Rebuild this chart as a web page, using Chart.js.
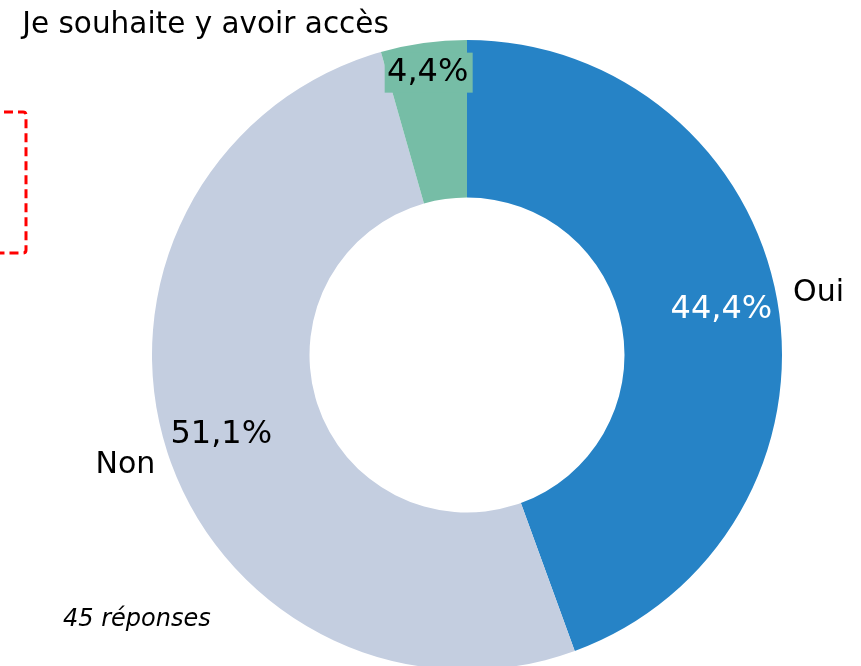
<!DOCTYPE html>
<html>
<head>
<meta charset="utf-8">
<script src="https://cdn.jsdelivr.net/npm/chart.js@4.4.0/dist/chart.umd.min.js"></script>
<style>
  html, body { margin: 0; padding: 0; background: #fff; overflow: hidden; }
  #wrap { position: relative; width: 861px; height: 666px; overflow: hidden; }
  #chart { position: absolute; left: 0; top: 0; }
  #marker { position: absolute; left: 0; top: 0; }
</style>
</head>
<body>
<div id="wrap">
  <canvas id="chart" width="861" height="710"></canvas>
  <svg id="marker" width="40" height="270">
    <path d="M -10 112 L 23 112 Q 26 112 26 115 L 26 250 Q 26 253 23 253 L -10 253"
          fill="none" stroke="#ff0000" stroke-width="3" stroke-dasharray="9 5"/>
  </svg>
</div>
<script>
// Survey answers (45 responses), in drawing order clockwise from top
const labels = ['Oui', 'Non', 'Je souhaite y avoir accès'];
const values = [44.4, 51.1, 4.4];
const colors = ['#2683C6', '#C4CEE0', '#76BDA6'];
const footnote = '45 réponses';

const FONT = '"DejaVu Sans", sans-serif';

/**
 * Label placement for each slice.
 * valueFrac: where the percentage sits between inner and outer radius
 * nameGap: distance of the category name outside the ring
 */
const LABEL_STYLE = [
  { valueFrac: 0.64, valueColor: '#ffffff', nameGap: 42, nameDx: 0, nameDy: 0, box: false },
  { valueFrac: 0.64, valueColor: '#000000', nameGap: 44, nameDx: 0, nameDy: 0, box: false },
  { valueFrac: 0.81, valueColor: '#000000', nameGap: 0, nameDx: -218, nameDy: -18, box: true }
];

function formatPercent(v) {
  return v.toFixed(1).replace('.', ',') + '%';
}

const sliceLabels = {
  id: 'sliceLabels',
  afterDatasetsDraw(chart) {
    const ctx = chart.ctx;
    const meta = chart.getDatasetMeta(0);
    ctx.save();
    ctx.textAlign = 'center';
    ctx.textBaseline = 'middle';
    meta.data.forEach((arc, i) => {
      const st = LABEL_STYLE[i];
      const mid = (arc.startAngle + arc.endAngle) / 2;
      const rv = arc.innerRadius + st.valueFrac * (arc.outerRadius - arc.innerRadius);
      const vx = arc.x + Math.cos(mid) * rv;
      const vy = arc.y + Math.sin(mid) * rv;
      const txt = formatPercent(values[i]);
      ctx.font = '32px ' + FONT;
      if (st.box) {
        ctx.fillStyle = colors[i];
        ctx.fillRect(vx - 43, vy - 20, 88, 40);
      }
      ctx.fillStyle = st.valueColor;
      ctx.fillText(txt, vx, vy);

      const rn = arc.outerRadius + st.nameGap;
      const nx = arc.x + Math.cos(mid) * rn + st.nameDx;
      const ny = arc.y + Math.sin(mid) * rn + st.nameDy;
      ctx.font = (i === 2 ? '29.5px ' : '30px ') + FONT;
      ctx.fillStyle = '#000000';
      ctx.fillText(labels[i], nx, ny);
    });

    ctx.font = 'italic 24px ' + FONT;
    ctx.textAlign = 'left';
    ctx.fillText(footnote, 63, 620);
    ctx.restore();
  }
};

new Chart(document.getElementById('chart'), {
  type: 'doughnut',
  data: {
    labels: labels,
    datasets: [{
      data: values,
      backgroundColor: colors,
      borderWidth: 0
    }]
  },
  options: {
    responsive: false,
    animation: false,
    cutout: '50%',
    layout: { padding: { left: 152, right: 79, top: 40, bottom: 40 } },
    plugins: {
      legend: { display: false },
      tooltip: { enabled: false }
    }
  },
  plugins: [sliceLabels]
});
</script>
</body>
</html>
